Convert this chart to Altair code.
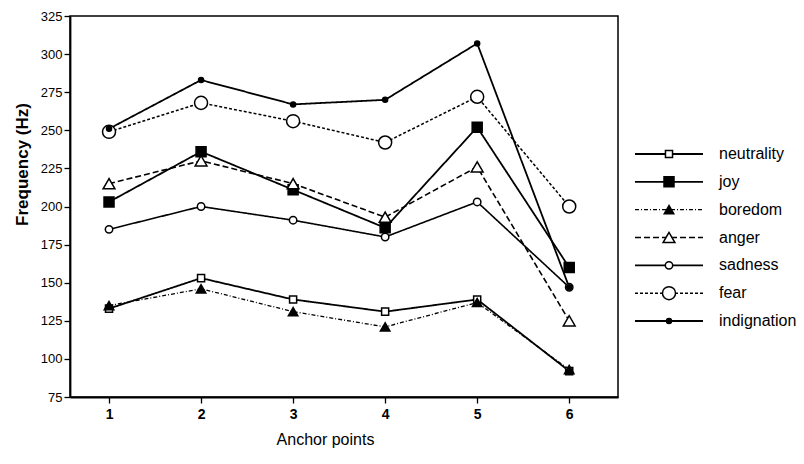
import altair as alt
import pandas as pd

# ---- data ----
anchor_points = [1, 2, 3, 4, 5, 6]
series_names = ["neutrality", "joy", "boredom", "anger", "sadness", "fear", "indignation"]
neutrality = [133, 153, 139, 131, 139, 92]
joy = [203, 236, 211, 186, 252, 160]
boredom = [135, 146, 131, 121, 137, 93]
anger = [215, 230, 215, 193, 226, 125]
sadness = [185, 200, 191, 180, 203, 147]
fear = [249, 268, 256, 242, 272, 200]
indignation = [251, 283, 267, 270, 307, 147]
y_ticks = [75, 100, 125, 150, 175, 200, 225, 250, 275, 300, 325]

values = {
    "neutrality": neutrality, "joy": joy, "boredom": boredom, "anger": anger,
    "sadness": sadness, "fear": fear, "indignation": indignation,
}

# ---- styles ----
dashes = [[1, 0], [1, 0], [4, 2, 1, 2], [6, 3], [1, 0], [3, 2], [1, 0]]
widths = [1.8, 1.8, 1.3, 1.6, 1.6, 1.5, 1.8]
shapes = ["square", "square", "triangle-up", "triangle-up", "circle", "circle", "circle"]
fills = ["white", "black", "black", "white", "white", "white", "black"]
sizes = [50, 100, 90, 140, 55, 170, 25]

rows = []
for s in series_names:
    for x, v in zip(anchor_points, values[s]):
        rows.append({"series": s, "point": x, "freq": v})
df = pd.DataFrame(rows)
legend_df = pd.DataFrame({"series": series_names})

FONT = "Liberation Sans"

dash_enc = alt.StrokeDash("series:N", scale=alt.Scale(type="ordinal", domain=series_names, range=dashes), legend=None)
width_enc = alt.StrokeWidth("series:N", scale=alt.Scale(type="ordinal", domain=series_names, range=widths), legend=None)
shape_enc = alt.Shape("series:N", scale=alt.Scale(type="ordinal", domain=series_names, range=shapes), legend=None)
fill_enc = alt.Fill("series:N", scale=alt.Scale(type="ordinal", domain=series_names, range=fills), legend=None)
size_enc = alt.Size("series:N", scale=alt.Scale(type="ordinal", domain=series_names, range=sizes), legend=None)

x_enc = alt.X(
    "point:Q",
    scale=alt.Scale(domain=[0.576, 6.53], nice=False, zero=False),
    axis=alt.Axis(
        values=anchor_points, format="d", title="Anchor points",
        labelFontSize=14, labelFontWeight="bold", labelPadding=4,
        titleFontSize=16, titleFontWeight="normal", titlePadding=10,
        titleX=255, titleAnchor="middle",
    ),
)
y_enc = alt.Y(
    "freq:Q",
    scale=alt.Scale(domain=[75, 325], nice=False, zero=False),
    axis=alt.Axis(
        values=y_ticks, title="Frequency (Hz)",
        labelFontSize=13, labelPadding=2,
        titleFontSize=17, titleFontWeight="bold",
        titleX=-48, titleY=148, titleAngle=-90, titleAlign="center", titleBaseline="middle",
    ),
)

lines = alt.Chart(df).mark_line(color="black").encode(
    x=x_enc, y=y_enc, detail="series:N", strokeDash=dash_enc, strokeWidth=width_enc,
    order=alt.Order("point:Q"),
)
points = alt.Chart(df).mark_point(filled=True, stroke="black", strokeWidth=1.5, opacity=1).encode(
    x=x_enc, y=y_enc, shape=shape_enc, fill=fill_enc, size=size_enc,
)
main = alt.layer(lines, points)

leg_y = alt.Y("series:N", scale=alt.Scale(type="point", domain=series_names, range=[138, 305], padding=0), axis=None)
leg_rules = alt.Chart(legend_df).mark_rule(color="black").encode(
    x=alt.value(565), x2=alt.value(633), y=leg_y, strokeDash=dash_enc, strokeWidth=width_enc,
)
leg_points = alt.Chart(legend_df).mark_point(filled=True, stroke="black", strokeWidth=1.5, opacity=1).encode(
    x=alt.value(599), y=leg_y, shape=shape_enc, fill=fill_enc, size=size_enc,
)
leg_text = alt.Chart(legend_df).mark_text(align="left", baseline="middle", font=FONT, fontSize=16, color="black").encode(
    x=alt.value(649), y=leg_y, text="series:N",
)
legend = alt.layer(leg_rules, leg_points, leg_text)

chart = (
    alt.layer(main, legend)
    .resolve_scale(y="independent")
    .properties(
        width=548, height=381,
        autosize=alt.AutoSizeParams(type="none"),
        padding={"left": 62, "top": 8, "right": 178, "bottom": 56},
        background="white",
    )
    .configure_view(stroke="black", strokeWidth=1.5)
    .configure_axis(
        labelFont=FONT, titleFont=FONT, labelColor="black", titleColor="black",
        domainColor="black", tickColor="black", domainWidth=1.8, tickWidth=1.3,
        tickSize=6, grid=False,
    )
)

chart.save("out.html", embed_options={"renderer": "svg", "actions": False})
